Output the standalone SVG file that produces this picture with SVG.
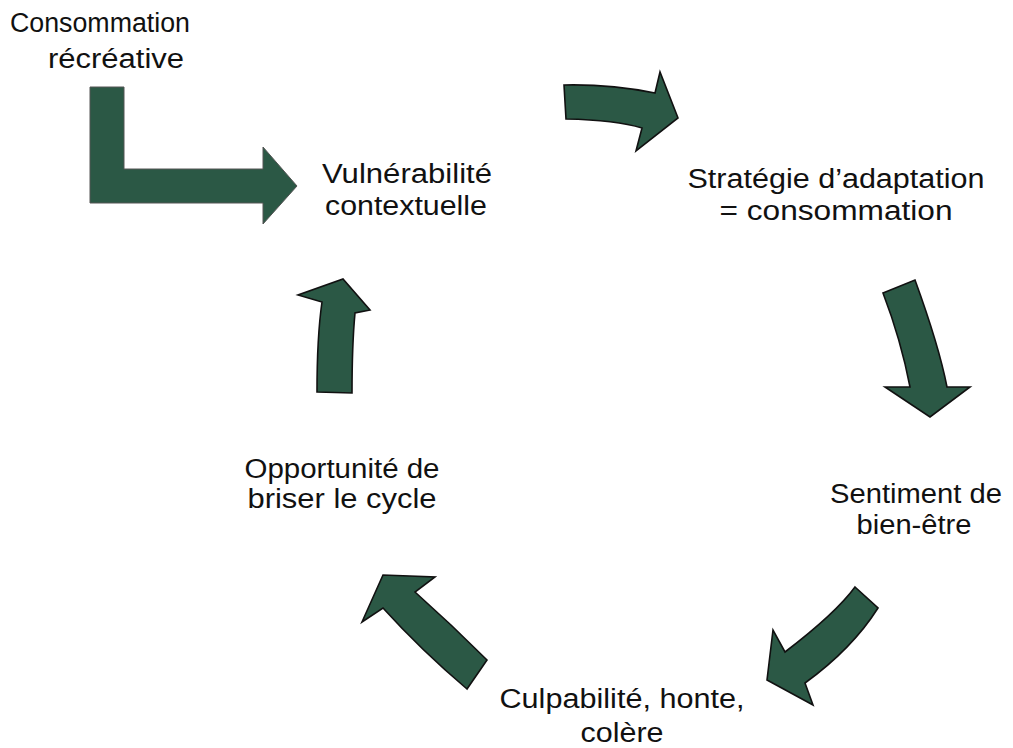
<svg xmlns="http://www.w3.org/2000/svg" width="1013" height="748" viewBox="0 0 1013 748">
<style>
.lbl{font-family:"Liberation Sans",Arial,sans-serif;font-size:27px;fill:#111;text-anchor:middle}
.arr{fill:#2b5845;stroke:#111;stroke-width:1.6;stroke-linejoin:miter}
.bent{fill:#2b5845;stroke:#555;stroke-width:1}
</style>
<rect width="1013" height="748" fill="#fff"/>
<g id="connectors">
<path id="bent-arrow" class="bent" d="M90,87 L124,87 L124,169 L263,169 L263,147 L297,186 L263,224 L263,203 L90,203 Z"/>
<path id="arrow-1" class="arr" d="M564,85 Q610,84 655,93 L660,72 L678,118 L636,151 L642,128 Q616,120 566,119 Z"/>
<path id="arrow-2" class="arr" d="M883,293 L915,280 Q939,346 947,387 L970,387 L930,417 L885,387 L910,387 Q901,340 883,293 Z"/>
<path id="arrow-3" class="arr" d="M855,587 L878,608 Q852,649 805,683 L813,705 L767,680 L773,630 L785,652 Q836,613 855,587 Z"/>
<path id="arrow-4" class="arr" d="M487,660 L467,689 Q421,650 383,608 L362,622 L383,575 L435,577 L415,592 Q452,625 487,660 Z"/>
<path id="arrow-5" class="arr" d="M317,392 L352,393 Q352,345 355,313 L370,310 L343,279 L298,295 L322,302 Q317,337 317,392 Z"/>
</g>
<g id="node-consommation">
<text class="lbl" x="100" y="32" textLength="180" lengthAdjust="spacingAndGlyphs">Consommation</text>
<text class="lbl" x="116" y="68" textLength="136" lengthAdjust="spacingAndGlyphs">récréative</text>
</g>
<g id="node-vulnerabilite">
<text class="lbl" x="407" y="183" textLength="170" lengthAdjust="spacingAndGlyphs">Vulnérabilité</text>
<text class="lbl" x="406" y="215" textLength="162" lengthAdjust="spacingAndGlyphs">contextuelle</text>
</g>
<g id="node-strategie">
<text class="lbl" x="836" y="188" textLength="297" lengthAdjust="spacingAndGlyphs">Stratégie d’adaptation</text>
<text class="lbl" x="836" y="220" textLength="233" lengthAdjust="spacingAndGlyphs">= consommation</text>
</g>
<g id="node-sentiment">
<text class="lbl" x="916" y="503" textLength="172" lengthAdjust="spacingAndGlyphs">Sentiment de</text>
<text class="lbl" x="914" y="534" textLength="115" lengthAdjust="spacingAndGlyphs">bien-être</text>
</g>
<g id="node-culpabilite">
<text class="lbl" x="622" y="708" textLength="245" lengthAdjust="spacingAndGlyphs">Culpabilité, honte,</text>
<text class="lbl" x="622" y="742" textLength="83" lengthAdjust="spacingAndGlyphs">colère</text>
</g>
<g id="node-opportunite">
<text class="lbl" x="342" y="478" textLength="195" lengthAdjust="spacingAndGlyphs">Opportunité de</text>
<text class="lbl" x="342" y="508" textLength="189" lengthAdjust="spacingAndGlyphs">briser le cycle</text>
</g>
</svg>
